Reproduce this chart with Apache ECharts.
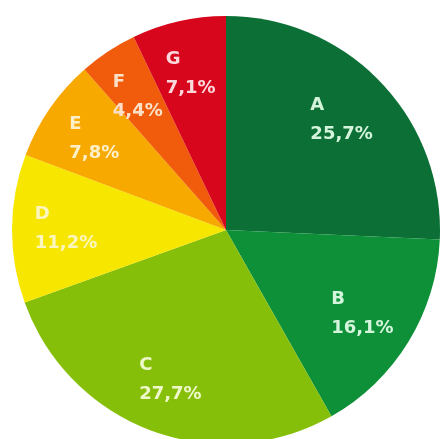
<!DOCTYPE html>
<html>
<head>
<meta charset="utf-8">
<style>html,body{margin:0;padding:0;background:#fff;}#c{width:440px;height:439px;}</style>
<script src="https://cdn.jsdelivr.net/npm/echarts@6/dist/echarts.min.js"></script>
</head>
<body>
<div id="c"></div>
<script>
const categories = ['A', 'B', 'C', 'D', 'E', 'F', 'G'];
const shares = [25.7, 16.1, 27.7, 11.2, 7.8, 4.4, 7.1];
const sliceColors = ['#0b6f36', '#0d9038', '#86bf0a', '#f7e700', '#f8a900', '#f05c0c', '#d7061c'];
const labelColors = ['#d4f5dc', '#d4f5dc', '#eef8c8', '#fbf6c0', '#fdf0c8', '#fde0c8', '#fcd8dc'];

const chart = echarts.init(document.getElementById('c'), null, {renderer: 'canvas'});
const pieData = categories.map((n, i) => ({name: n, value: shares[i], itemStyle: {color: sliceColors[i]}}));
const labelData = categories.map((n, i) => ({
  name: n, value: shares[i],
  label: {color: labelColors[i]}
}));
const fmt = p => '{n|' + p.name + '}\n{p|' + p.value.toFixed(1).replace('.', ',') + '%}';
const txt = {align: 'left', fontFamily: 'DejaVu Sans', fontWeight: 'bold', fontSize: 18, lineHeight: 29};
chart.setOption({
  animation: false,
  backgroundColor: '#ffffff',
  series: [
    {
      type: 'pie', center: [226, 230], radius: [0, 214], startAngle: 90, clockwise: true,
      label: {show: false}, labelLine: {show: false}, silent: true,
      itemStyle: {borderWidth: 0},
      data: pieData
    },
    {
      type: 'pie', center: [226, 230], radius: [100, 214], startAngle: 90, clockwise: true,
      silent: true, avoidLabelOverlap: false, minShowLabelAngle: 0,
      labelLayout: {hideOverlap: false},
      itemStyle: {color: 'rgba(0,0,0,0)', borderWidth: 0},
      labelLine: {show: false},
      label: {
        show: true, position: 'inside', formatter: fmt, overflow: 'none',
        fontFamily: 'DejaVu Sans', fontWeight: 'bold', fontSize: 18, lineHeight: 29,
        rich: {n: txt, p: txt}
      },
      data: labelData
    }
  ]
});
</script>
</body>
</html>
